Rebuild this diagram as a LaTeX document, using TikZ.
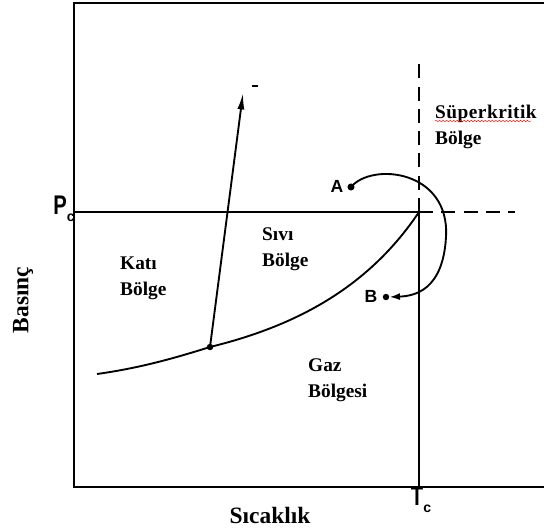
\documentclass[tikz,border=0pt]{standalone}
\usepackage{xcolor}
\usepackage{graphicx}
\usepackage{fontspec}
\setmainfont{Liberation Serif}
\newfontfamily\sansfont{Liberation Sans}
\usetikzlibrary{arrows.meta,decorations.pathmorphing}

\begin{document}
\begin{tikzpicture}[x=0.03cm,y=-0.03cm,
  axis/.style={line width=1.8pt},
  phase/.style={line width=1.6pt},
  guide/.style={line width=2pt, dash pattern=on 12pt off 7pt},
  region/.style={font=\bfseries\fontsize{16.5}{22}\selectfont, align=left, anchor=west, inner sep=0pt},
  axislabel/.style={font=\bfseries\fontsize{20}{20}\selectfont},
  letter/.style={font=\sansfont\bfseries\fontsize{15}{15}\selectfont},
  crit/.style={font=\sansfont\bfseries\fontsize{23}{23}\selectfont, inner sep=0pt},
  dot/.style={fill, circle, inner sep=0pt, minimum size=5.5pt}]
  \useasboundingbox (0,0) rectangle (544,531);

  % Draw the frame
  \draw[axis] (544,3) -- (74,3) -- (74,487) -- (544,487);

  % Critical pressure and temperature
  \coordinate (C) at (419,212);
  \draw[axis] (74,212) -- (C) -- (419,487);
  \draw[guide] (C) -- (515,212);
  \draw[guide] (C) -- (419,62);

  % Phase boundaries
  \node[dot] (tp) at (210,347) {};
  \coordinate (top) at (243,93);
  \draw[phase] (97,374) .. controls (140,368) and (175,358) .. (tp.center);
  \draw[phase] (tp.center) .. controls (300,325) and (370,285) .. (C);
  \draw[phase, -{Latex[length=14pt,width=6pt]}] (tp.center) -- (top);
  \draw[line width=1pt] (252,86) -- (258,86);

  % Path from A to B round the critical point
  \node[dot, minimum size=6pt] (A) at (351,187) {};
  \node[dot] (B) at (386,297) {};
  \node[letter] at (337,186) {A};
  \node[letter] at (371,296) {B};
  \draw[phase, -{Latex[length=9pt,width=6pt]}] (A.center)
    .. controls (372,162) and (450,170) .. (446,237)
    .. controls (443,290) and (415,296) .. (B.east);

  % Region labels
  \node[region] at (435,127) {{\addfontfeature{LetterSpace=2.5}Süperkritik}\\Bölge};
  \draw[red, line width=0.4pt, decorate, decoration={snake, amplitude=0.6pt, segment length=3pt}] (435,121) -- (532,121);
  \node[region] at (262,249) {Sıvı\\Bölge};
  \node[region] at (120,278) {Katı\\Bölge};
  \node[region] at (308,380) {Gaz\\Bölgesi};

  % Axis labels
  \node[axislabel] at (270,515) {Sıcaklık};
  \node[axislabel, rotate=90] at (23,300) {Basınç};
  \node[crit] at (64,209) {\scalebox{0.75}[1]{P}\raisebox{-6pt}{\fontsize{12}{12}\selectfont c}};
  \node[crit] at (421,500) {\scalebox{0.75}[1]{T}\raisebox{-6pt}{\fontsize{12}{12}\selectfont c}};
\end{tikzpicture}
\end{document}
